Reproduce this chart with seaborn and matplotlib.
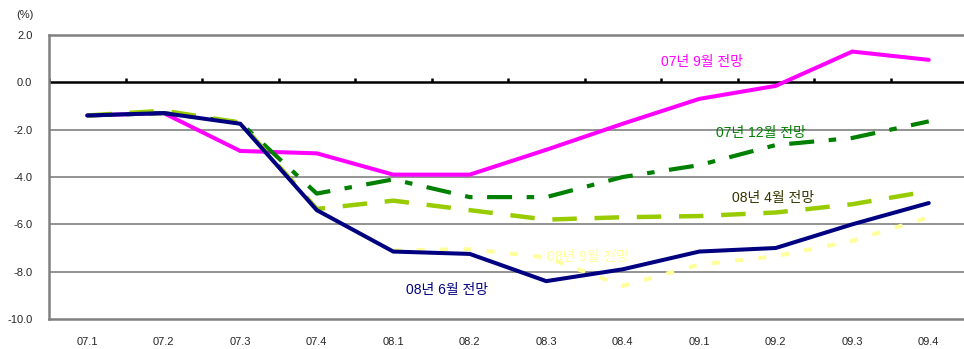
import numpy as np
import pandas as pd
import matplotlib
matplotlib.use("Agg")
import matplotlib.pyplot as plt
import seaborn as sns

sns.set_theme(style="white")
plt.rcParams["font.family"] = ["Liberation Sans", "Noto Sans CJK KR", "DejaVu Sans"]
plt.rcParams["axes.unicode_minus"] = False

# Quarters (yy.q)
quarters = ["07.1", "07.2", "07.3", "07.4", "08.1", "08.2",
            "08.3", "08.4", "09.1", "09.2", "09.3", "09.4"]

# Growth forecasts (%) by forecast vintage
fc_0709 = [-1.4, -1.3, -2.9, -3.0, -3.9, -3.9, -2.85, -1.75, -0.7, -0.15, 1.3, 0.95]
fc_0712 = [-1.4, -1.3, -1.7, -4.7, -4.1, -4.85, -4.85, -4.0, -3.5, -2.65, -2.35, -1.65]
fc_0804 = [-1.4, -1.2, -1.7, -5.35, -5.0, -5.4, -5.8, -5.7, -5.65, -5.5, -5.15, -4.6]
fc_0809 = [np.nan, np.nan, np.nan, np.nan, -7.1, -7.05, -7.4, -8.6, -7.7, -7.35, -6.7, -5.7]
fc_0806 = [-1.4, -1.3, -1.75, -5.4, -7.15, -7.25, -8.4, -7.9, -7.15, -7.0, -6.0, -5.1]

series_names = ["07년 9월 전망", "07년 12월 전망", "08년 4월 전망", "08년 9월 전망", "08년 6월 전망"]

df = pd.DataFrame({
    "pos": np.tile(np.arange(len(quarters)), 5),
    "value": fc_0709 + fc_0712 + fc_0804 + fc_0809 + fc_0806,
    "series": np.repeat(series_names, len(quarters)),
})

styles = {
    "07년 9월 전망": dict(color="#FF00FF", lw=2.9, dashes=None),
    "07년 12월 전망": dict(color="#008000", lw=3.0, dashes=(6, 3.5, 1.8, 3.5)),
    "08년 4월 전망": dict(color="#99CC00", lw=3.2, dashes=(5.5, 4)),
    "08년 9월 전망": dict(color="#FFFF99", lw=2.9, dashes=(2, 3.8)),
    "08년 6월 전망": dict(color="#000080", lw=2.9, dashes=None),
}

fig = plt.figure(figsize=(9.64, 3.49), dpi=100)
ax = fig.add_axes([49 / 964, 1 - 319 / 349, 918 / 964, 284 / 349])

for name in series_names:
    st = styles[name]
    sub = df[df["series"] == name].dropna()
    sns.lineplot(data=sub, x="pos", y="value", ax=ax, color=st["color"],
                 linewidth=st["lw"], legend=False, zorder=3,
                 solid_joinstyle="miter")
    if st["dashes"] is not None:
        ax.lines[-1].set_dashes(st["dashes"])

ax.set_xlim(-0.5, len(quarters) - 0.5)
ax.set_ylim(-10, 2)

# Horizontal gridlines and the zero line with quarter-boundary ticks
for yv in [-2, -4, -6, -8]:
    ax.axhline(yv, color="#808080", lw=1.2, zorder=1)
ax.axhline(0, color="black", lw=1.8, zorder=2)
ax.vlines(np.arange(len(quarters)) - 0.5, 0, 0.2, color="black", lw=1.8, zorder=2)

for side in ["left", "top", "bottom"]:
    ax.spines[side].set_color("#808080")
    ax.spines[side].set_linewidth(1.8)
ax.spines["right"].set_visible(False)

ax.set_yticks(np.arange(-10, 2.1, 2))
ax.set_yticklabels([f"{v:.1f}" for v in np.arange(-10, 2.1, 2)], fontsize=8)
ax.set_xticks(np.arange(len(quarters)))
ax.set_xticklabels(quarters, fontsize=8)
ax.tick_params(axis="y", length=0, pad=12)
ax.tick_params(axis="x", length=0, pad=13)
ax.set_xlabel("")
ax.set_ylabel("")

fig.text(25 / 964, 1 - 15 / 349, "(%)", fontsize=8, ha="center", va="center")

labels = [
    ("07년 9월 전망", 8.04, 0.87, "#FF00FF"),
    ("07년 12월 전망", 8.81, -2.14, "#008000"),
    ("08년 4월 전망", 8.96, -4.87, "#333300"),
    ("08년 9월 전망", 6.55, -7.37, "#FFFF99"),
    ("08년 6월 전망", 4.70, -8.79, "#000080"),
]
for text, x, y, c in labels:
    ax.text(x, y, text, color=c, fontsize=10, ha="center", va="center", zorder=5)

fig.savefig("out.png", dpi=100)
